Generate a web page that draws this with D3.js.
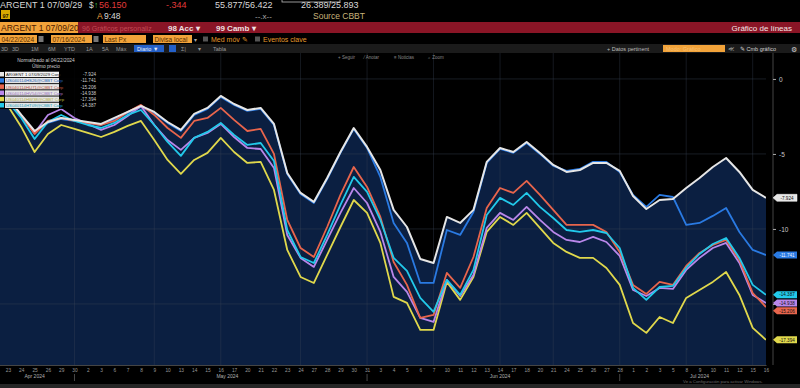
<!DOCTYPE html>
<html>
<head>
<meta charset="utf-8">
<script src="https://cdn.jsdelivr.net/npm/d3@7/dist/d3.min.js"></script>
<style>
  body { margin: 0; background: #000; overflow: hidden; }
  svg { display: block; font-family: "Liberation Sans", Arial, sans-serif; }
</style>
</head>
<body>
<svg id="chart" width="800" height="388"></svg>
<script>
// trading days shown on the chart
var dates = [
  "2024-04-22","2024-04-23","2024-04-24","2024-04-25","2024-04-26","2024-04-29","2024-04-30",
  "2024-05-02","2024-05-03","2024-05-06","2024-05-07","2024-05-08","2024-05-09","2024-05-10",
  "2024-05-13","2024-05-14","2024-05-15","2024-05-16","2024-05-17","2024-05-20","2024-05-21",
  "2024-05-22","2024-05-23","2024-05-24","2024-05-27","2024-05-28","2024-05-29","2024-05-30","2024-05-31",
  "2024-06-03","2024-06-04","2024-06-05","2024-06-06","2024-06-07","2024-06-10","2024-06-11",
  "2024-06-12","2024-06-13","2024-06-14","2024-06-17","2024-06-18","2024-06-20","2024-06-21",
  "2024-06-24","2024-06-25","2024-06-26","2024-06-27","2024-06-28",
  "2024-07-01","2024-07-02","2024-07-03","2024-07-05","2024-07-08","2024-07-09","2024-07-10",
  "2024-07-11","2024-07-12","2024-07-15","2024-07-16"
];

var seriesNames = [
  "ARGENT 1 07/09/2029 Corp",
  "US040114HS26@CBBT Corp",
  "US040114HU71@CBBT Corp",
  "US040114HV54@CBBT Corp",
  "US040114HW38@CBBT Corp",
  "US040114HT09@CBBT Corp"
];
var seriesColors = ["#e6e6e6", "#2a7ae2", "#e8654c", "#b987ea", "#e0d84c", "#22c9ea"];
var lastValues = ["-7.924", "-11.741", "-15.206", "-14.938", "-17.394", "-14.387"];

// normalized % change since 04/22/2024
var white = [0,-1.27,-2.40,-3.47,-2.87,-2.60,-2.73,-2.87,-3.00,-2.60,-2.20,-1.80,-2.20,-2.87,-3.40,-2.33,-1.93,-1.13,-1.67,-2.07,-1.93,-3.00,-6.27,-7.60,-8.20,-6.60,-4.87,-3.27,-4.53,-6.07,-8.73,-9.87,-12.00,-12.27,-9.20,-9.60,-8.73,-5.53,-4.60,-4.87,-4.20,-4.93,-5.73,-6.20,-6.07,-5.60,-5.60,-6.13,-7.80,-8.67,-8.07,-8.00,-7.27,-6.60,-5.87,-5.27,-6.20,-7.40,-7.924];
var blue = [0,-1.33,-2.47,-3.53,-2.93,-2.67,-2.80,-2.93,-3.07,-2.67,-2.27,-1.87,-2.27,-2.93,-3.47,-2.40,-2.00,-1.20,-1.73,-2.13,-2.00,-3.07,-6.33,-7.67,-8.27,-6.67,-4.93,-3.33,-4.60,-6.53,-9.60,-10.93,-13.60,-13.60,-10.07,-10.40,-8.87,-5.60,-4.67,-4.93,-4.27,-5.00,-5.80,-6.13,-6.00,-5.53,-5.53,-6.20,-7.73,-8.53,-7.73,-7.87,-9.73,-9.60,-9.13,-8.60,-10.20,-11.40,-11.741];
var red = [0,-1.47,-2.47,-3.67,-2.80,-2.60,-2.80,-2.93,-3.07,-2.80,-2.20,-1.73,-2.40,-3.27,-3.93,-2.80,-2.60,-1.93,-2.73,-3.47,-3.33,-5.00,-9.40,-11.27,-11.87,-9.87,-7.73,-5.87,-7.20,-9.20,-12.20,-13.73,-15.93,-15.73,-12.93,-13.93,-11.87,-8.60,-7.27,-7.60,-6.80,-7.73,-8.73,-9.73,-9.73,-9.73,-10.20,-11.53,-13.73,-14.33,-13.53,-13.73,-12.47,-11.60,-11.07,-10.73,-12.07,-14.27,-15.206];
var purple = [0,-1.40,-2.47,-3.60,-2.40,-2.00,-2.60,-3.00,-3.40,-3.07,-2.47,-1.80,-3.07,-4.07,-4.73,-3.93,-3.60,-3.00,-3.87,-4.60,-4.67,-5.93,-10.40,-11.93,-12.53,-10.73,-8.93,-7.27,-8.27,-10.20,-13.20,-14.20,-15.93,-16.20,-13.40,-14.47,-13.07,-9.93,-8.93,-9.40,-8.53,-9.40,-10.20,-10.73,-10.87,-10.53,-10.87,-11.80,-14.07,-14.47,-13.93,-14.00,-12.73,-11.93,-11.27,-10.93,-12.27,-14.40,-14.938];
var yellow = [0,-1.80,-3.20,-4.87,-3.67,-3.07,-3.33,-3.60,-3.87,-3.53,-3.13,-2.80,-4.07,-5.40,-6.33,-5.40,-4.93,-3.93,-4.87,-5.60,-5.53,-7.40,-11.40,-13.20,-13.60,-11.73,-9.87,-8.07,-8.93,-10.93,-14.53,-14.93,-16.73,-16.73,-13.53,-14.73,-13.20,-10.20,-9.20,-9.73,-8.93,-9.93,-10.93,-11.53,-11.93,-11.93,-12.60,-13.73,-16.27,-16.93,-15.87,-16.27,-14.60,-14.07,-13.53,-12.87,-14.40,-16.60,-17.394];
var cyan = [0,-1.53,-2.60,-4.00,-2.87,-2.40,-2.80,-3.07,-3.27,-2.93,-2.40,-2.07,-3.07,-4.20,-5.13,-3.93,-3.53,-2.93,-3.73,-4.40,-4.27,-5.47,-10.07,-11.87,-12.27,-10.40,-8.40,-6.53,-7.53,-9.40,-11.93,-12.80,-14.60,-15.53,-13.40,-14.40,-12.73,-9.07,-7.93,-8.40,-7.60,-8.53,-9.27,-10.07,-10.20,-10.07,-10.27,-11.27,-13.93,-14.73,-13.87,-13.80,-12.60,-11.67,-11.00,-10.60,-11.93,-13.73,-14.387];

var yTicks = [0, -5, -10, -15];
var gridDates = ["2024-04-30","2024-05-09","2024-05-16","2024-05-24","2024-05-31","2024-06-07","2024-06-14","2024-06-21","2024-06-28","2024-07-08","2024-07-15"];
var monthNames = ["Apr 2024", "May 2024", "Jun 2024", "Jul 2024"];

var allSeries = [white, blue, red, purple, yellow, cyan];
// draw order: white/blue first, then the cluster, white on top at the end
var drawOrder = [1, 4, 3, 2, 5, 0];

var svg = d3.select("#chart");
var W = 800, H = 388;
var plot = { left: 0, right: 766, top: 53, bottom: 365 };

var x = d3.scalePoint().domain(dates).range([-5.3, 766]);
var y = d3.scaleLinear().domain([1.73, -19.07]).range([plot.top, plot.bottom]);

function txt(g, xp, yp, s, size, fill, anchor, weight) {
  return g.append("text").attr("x", xp).attr("y", yp).attr("font-size", size)
    .attr("fill", fill).attr("text-anchor", anchor || "start")
    .attr("font-weight", weight || "normal").text(s);
}

// ---------- header ----------
var hdr = svg.append("g");
txt(hdr, 0, 8, "ARGENT 1 07/09/29", 9, "#d8d8d8");
txt(hdr, 89, 8, "$", 8.5, "#d8d8d8");
txt(hdr, 94, 8, "↑", 8.5, "#3fbf4a");
txt(hdr, 99, 8, "56.150", 9, "#e23a3a");
txt(hdr, 166, 8, "-.344", 9, "#e23a3a");
txt(hdr, 215, 8, "55.877/56.422", 9, "#d8d8d8");
hdr.append("rect").attr("x", 282).attr("y", -2).attr("width", 58).attr("height", 4)
  .attr("fill", "none").attr("stroke", "#bbb").attr("stroke-width", 0.8);
txt(hdr, 301, 8, "26.389/25.893", 9, "#d8d8d8");
hdr.append("rect").attr("x", 1).attr("y", 10).attr("width", 9).attr("height", 9).attr("fill", "#d8a800");
txt(hdr, 5.5, 17.5, "97", 5.5, "#2a1a00", "middle", "bold");
txt(hdr, 97, 19, "A", 8.5, "#e8a040");
txt(hdr, 104, 19, "9:48", 8.5, "#d8d8d8");
txt(hdr, 255, 19, "--.x--", 8, "#aaa");
txt(hdr, 313, 19, "Source CBBT", 8.5, "#c8b27a");

// red bar
hdr.append("rect").attr("x", 0).attr("y", 22).attr("width", W).attr("height", 11).attr("fill", "#8a1526");
hdr.append("rect").attr("x", 0).attr("y", 22).attr("width", 78).attr("height", 11).attr("fill", "#f2a33a");
txt(hdr, 1, 31, "ARGENT 1 07/09/20", 8.5, "#4a1a00");
txt(hdr, 82, 31, "96 Gráficos personaliz.", 7, "#c04a55");
txt(hdr, 168, 31, "98 Acc ▾", 8, "#f0e0e0", "start", "bold");
txt(hdr, 216, 31, "99 Camb ▾", 8, "#f0e0e0", "start", "bold");
txt(hdr, 792, 31, "Gráfico de líneas", 8, "#f4e6e6", "end");

// option row
var boxes = [[0, 37, "04/22/2024"], [51, 41, "07/16/2024"], [103, 43, "Last Px"], [153, 39, "Divisa local"]];
boxes.forEach(function (b) {
  hdr.append("rect").attr("x", b[0]).attr("y", 35).attr("width", b[1]).attr("height", 8).attr("fill", "#f2a33a");
  txt(hdr, b[0] + 1.5, 41.7, b[2], 6.5, "#5a3000");
});
[38.5, 93.5].forEach(function (px) {
  hdr.append("rect").attr("x", px).attr("y", 36).attr("width", 5).attr("height", 6).attr("fill", "#777");
});
txt(hdr, 194, 42, "▾", 6, "#aaa");
hdr.append("rect").attr("x", 203).attr("y", 36.5).attr("width", 5).attr("height", 5).attr("fill", "#555");
txt(hdr, 211, 42, "Med móv ✎", 7, "#e59a2c");
hdr.append("rect").attr("x", 255).attr("y", 36.5).attr("width", 5).attr("height", 5).attr("fill", "#555");
txt(hdr, 263, 42, "Eventos clave", 7, "#e59a2c");

// period / tool row
hdr.append("rect").attr("x", 0).attr("y", 44).attr("width", W).attr("height", 9).attr("fill", "#1b1b1b");
var periods = [[1, "3D"], [12, "3D"], [31, "1M"], [48, "6M"], [64, "YTD"], [86, "1A"], [102, "5A"], [116, "Máx"]];
periods.forEach(function (p) { txt(hdr, p[0], 51, p[1], 5.5, "#9a9a9a"); });
hdr.append("rect").attr("x", 134).attr("y", 45).attr("width", 30).attr("height", 7).attr("fill", "#2460c8");
txt(hdr, 137, 51, "Diario ▼", 5.5, "#e8eefc");
hdr.append("rect").attr("x", 169).attr("y", 45).attr("width", 7).attr("height", 7).attr("fill", "#2460c8");
txt(hdr, 181, 51, "Σ|", 5.5, "#9a9a9a");
txt(hdr, 198, 51, "▾", 5.5, "#9a9a9a");
txt(hdr, 213, 51, "Tabla", 5.5, "#9a9a9a");
txt(hdr, 607, 51, "+ Datos pertinent", 5.5, "#bdbdbd");
hdr.append("rect").attr("x", 663).attr("y", 45).attr("width", 62).attr("height", 7).attr("fill", "#f2a33a");
txt(hdr, 666, 51, "Modo: Gráfico", 5.5, "#f8c070");
txt(hdr, 728, 51, "≪", 6, "#bbb");
txt(hdr, 740, 51, "✎ Cmb gráfico", 5.5, "#d0d0d0");
txt(hdr, 791, 51.5, "⚙", 6.5, "#d0d0d0");

// ---------- plot ----------
svg.append("clipPath").attr("id", "clip").append("rect")
  .attr("x", plot.left).attr("y", plot.top).attr("width", plot.right - plot.left).attr("height", plot.bottom - plot.top);

var g = svg.append("g").attr("clip-path", "url(#clip)");

// area under the main bond
var area = d3.area()
  .x(function (d, i) { return x(dates[i]); })
  .y0(plot.bottom)
  .y1(function (d) { return y(d); });
g.append("path").datum(white).attr("d", area).attr("fill", "#0b1f41");

// grid
g.selectAll(".hgrid").data(yTicks).enter().append("line")
  .attr("x1", plot.left).attr("x2", plot.right)
  .attr("y1", function (d) { return y(d); }).attr("y2", function (d) { return y(d); })
  .attr("stroke", "#3a4458").attr("stroke-width", 0.6).attr("opacity", 0.7);
g.selectAll(".vgrid").data(gridDates).enter().append("line")
  .attr("x1", function (d) { return x(d); }).attr("x2", function (d) { return x(d); })
  .attr("y1", plot.top).attr("y2", plot.bottom)
  .attr("stroke", "#3a4458").attr("stroke-width", 0.6).attr("opacity", 0.6);

var line = d3.line()
  .x(function (d, i) { return x(dates[i]); })
  .y(function (d) { return y(d); });

drawOrder.forEach(function (k) {
  g.append("path").datum(allSeries[k]).attr("d", line)
    .attr("fill", "none").attr("stroke", seriesColors[k])
    .attr("stroke-width", k === 0 ? 2 : 1.8).attr("stroke-linejoin", "round");
});

// toolbar inside the plot
var tools = [[338, "+ Seguir"], [364, "⁄ Anotar"], [394, "≡ Noticias"], [428, "⌕ Zoom"]];
tools.forEach(function (t) { txt(svg, t[0], 59, t[1], 4.5, "#8a8a8a"); });

// ---------- right axis ----------
// last-value tags, pushed apart so they stack without touching
var tagH = 7;
var tags = allSeries.map(function (s, k) {
  return { k: k, y: y(s[s.length - 1]) };
}).sort(function (a, b) { return a.y - b.y; });
for (var i = 1; i < tags.length; i++) {
  if (tags[i].y - tags[i - 1].y < tagH + 0.8) tags[i].y = tags[i - 1].y + tagH + 0.8;
}

svg.append("line").attr("x1", 773).attr("x2", 773).attr("y1", plot.top).attr("y2", plot.bottom)
  .attr("stroke", "#555").attr("stroke-width", 0.8);
var yAxis = d3.axisRight(y).tickValues(yTicks).tickSize(3).tickPadding(3)
  .tickFormat(function (d) { return d === 0 ? "0" : "-" + Math.abs(d); });
var ya = svg.append("g").attr("transform", "translate(773,0)").call(yAxis);
ya.select(".domain").remove();
ya.selectAll("line").attr("stroke", "#aaa");
ya.selectAll("text").attr("fill", "#c8c8c8").attr("font-size", 6.5);
// a tick label sitting under a value tag is hidden by it, as on the terminal
ya.selectAll(".tick").filter(function (d) {
  return tags.some(function (t) { return Math.abs(t.y - y(d)) < tagH; });
}).select("text").remove();

tags.forEach(function (t) {
  var ty = t.y, h = tagH;
  svg.append("path")
    .attr("d", "M773," + ty + "L777," + (ty - h / 2) + "L797," + (ty - h / 2) + "L797," + (ty + h / 2) + "L777," + (ty + h / 2) + "Z")
    .attr("fill", seriesColors[t.k]).attr("stroke", "#fff").attr("stroke-width", t.k === 0 ? 0.5 : 0);
  txt(svg, 787, ty + 1.7, lastValues[t.k], 4.6, t.k === 1 ? "#eef4ff" : "#111", "middle");
});

// ---------- bottom axis ----------
var xAxis = d3.axisBottom(x).tickSize(0).tickPadding(4)
  .tickValues(dates.slice(1))
  .tickFormat(function (d) { return String(+d.slice(8)); });
var xa = svg.append("g").attr("transform", "translate(0," + plot.bottom + ")").call(xAxis);
xa.select(".domain").attr("stroke", "#444");
xa.selectAll("text").attr("fill", "#9a9a9a").attr("font-size", 4.8);

var monthEnds = ["2024-04-30", "2024-05-31", "2024-06-28"];
svg.selectAll(".mend").data(monthEnds).enter().append("line")
  .attr("x1", function (d) { return x(d); }).attr("x2", function (d) { return x(d); })
  .attr("y1", plot.bottom + 9).attr("y2", plot.bottom + 16)
  .attr("stroke", "#777").attr("stroke-width", 0.6);

var months = d3.groups(dates, function (d) { return d.slice(0, 7); });
months.forEach(function (m, j) {
  var xs = m[1].map(function (d) { return x(d); });
  txt(svg, d3.mean(xs), plot.bottom + 13, monthNames[j], 5, "#b0b0b0", "middle");
});

svg.append("rect").attr("x", 0).attr("y", 384).attr("width", W).attr("height", 4).attr("fill", "#262626");
txt(svg, 683, 383, "Ve a Configuración para activar Windows.", 4.3, "#6d6d6d");

// ---------- legend ----------
var lg = svg.append("g");
lg.append("rect").attr("x", 0).attr("y", 54).attr("width", 100).attr("height", 55).attr("fill", "#000").attr("opacity", 0.9);
txt(lg, 46, 62, "Normalizado al 04/22/2024", 4.8, "#cfcfcf", "middle");
txt(lg, 46, 68, "Último precio", 4.8, "#cfcfcf", "middle");
seriesNames.forEach(function (n, k) {
  var ly = 72 + k * 6.2;
  lg.append("rect").attr("x", 0).attr("y", ly).attr("width", 4).attr("height", 4.5).attr("fill", seriesColors[k]);
  lg.append("rect").attr("x", 5).attr("y", ly - 0.3).attr("width", 54).attr("height", 5.3)
    .attr("fill", k === 0 ? "#f2f2f2" : "#e4e4e4");
  txt(lg, 6, ly + 4.1, n, 4.3, k === 0 ? "#222" : d3.color(seriesColors[k]).darker(0.6), "start");
  txt(lg, 96, ly + 4.1, lastValues[k], 4.6, "#cfcfcf", "end");
});
</script>
</body>
</html>
